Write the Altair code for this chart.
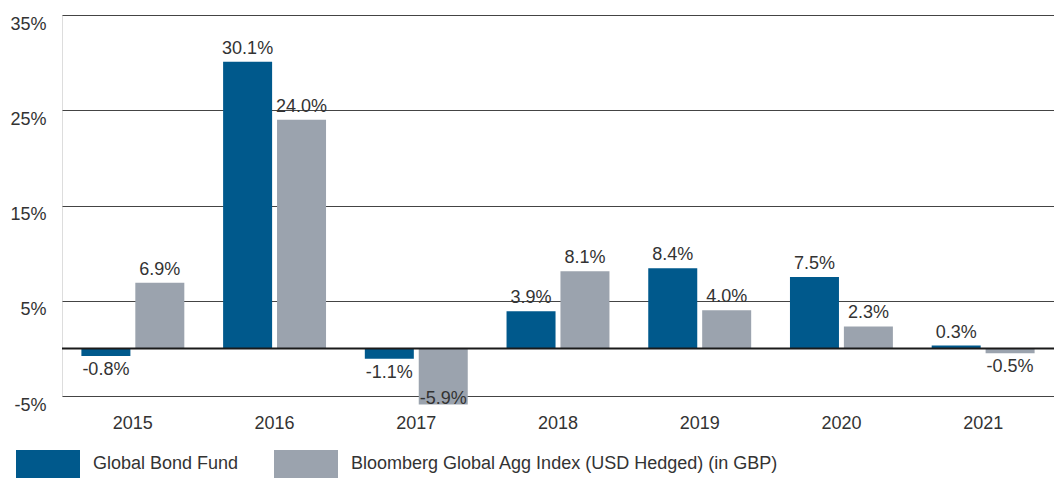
import altair as alt
import pandas as pd

years = ["2015", "2016", "2017", "2018", "2019", "2020", "2021"]
fund = [-0.8, 30.1, -1.1, 3.9, 8.4, 7.5, 0.3]
index = [6.9, 24.0, -5.9, 8.1, 4.0, 2.3, -0.5]
series_names = ["Global Bond Fund", "Bloomberg Global Agg Index (USD Hedged) (in GBP)"]
colors = ["#00598c", "#9ba3ae"]
y_ticks = [-5, 5, 15, 25, 35]

rows = []
for i, yr in enumerate(years):
    rows.append({"year": yr, "series": series_names[0], "value": fund[i]})
    rows.append({"year": yr, "series": series_names[1], "value": index[i]})
df = pd.DataFrame(rows)

FONT = "Liberation Sans"
TXT = "#333333"
FS = 18

x = alt.X(
    "year:N", sort=years, title=None,
    scale=alt.Scale(paddingInner=0, paddingOuter=0),
    axis=alt.Axis(labelAngle=0, domain=False, ticks=False, labelPadding=18,
                  labelFontSize=FS, labelColor=TXT, labelFont=FONT, grid=False),
)
xoff = alt.XOffset("series:N", sort=series_names,
                   scale=alt.Scale(paddingInner=0.092, paddingOuter=0.36))
y = alt.Y(
    "value:Q", title=None,
    scale=alt.Scale(domain=[-5, 35], nice=False, zero=False),
    axis=alt.Axis(values=y_ticks, labelExpr="datum.value + '%'", domain=False, ticks=False,
                  grid=True, gridColor="#444444", gridWidth=1, labelPadding=16,
                  labelBaseline="top", labelFontSize=FS, labelColor=TXT, labelFont=FONT),
)
rect_path = "M-1,-0.4375L1,-0.4375L1,0.4375L-1,0.4375Z"
color = alt.Color(
    "series:N", sort=series_names,
    scale=alt.Scale(domain=series_names, range=colors),
    legend=alt.Legend(title=None, orient="none", legendX=-46, legendY=417, direction="horizontal",
                      symbolType=rect_path, symbolSize=4096, symbolStrokeWidth=0, symbolOpacity=1,
                      labelFontSize=FS, labelFont=FONT, labelColor=TXT, labelOffset=13,
                      columnPadding=35, labelLimit=700),
)

base = alt.Chart(df).encode(x=x, xOffset=xoff, y=y)

bars = base.mark_bar(size=49).encode(color=color)

label_expr = "(datum.value < 0 ? '-' : '') + format(abs(datum.value), '.1f') + '%'"
pos_labels = base.transform_filter("datum.value >= 0").transform_calculate(
    lab=label_expr
).mark_text(baseline="alphabetic", dy=-8, fontSize=FS, font=FONT, color=TXT).encode(text="lab:N")
neg_labels = base.transform_filter("datum.value < 0 && datum.value > -4").transform_calculate(
    lab=label_expr
).mark_text(baseline="top", dy=5, fontSize=FS, font=FONT, color=TXT).encode(text="lab:N")
deep_labels = base.transform_filter("datum.value <= -4").transform_calculate(
    lab=label_expr
).mark_text(baseline="alphabetic", dy=-1, fontSize=FS, font=FONT, color=TXT).encode(text="lab:N")

zero = alt.Chart(pd.DataFrame({"z": [0]})).mark_rule(color="#1a1a1a", strokeWidth=2).encode(
    y=alt.Y("z:Q")
)

chart = alt.layer(bars, zero, pos_labels, neg_labels, deep_labels).properties(
    width=992, height=381,
    padding={"left": 54, "top": 7, "right": 0, "bottom": 83},
    autosize=alt.AutoSizeParams(type="none"),
).configure_view(stroke=None).configure(background="white")

chart.save("out.html", embed_options={"renderer": "svg", "actions": False})
